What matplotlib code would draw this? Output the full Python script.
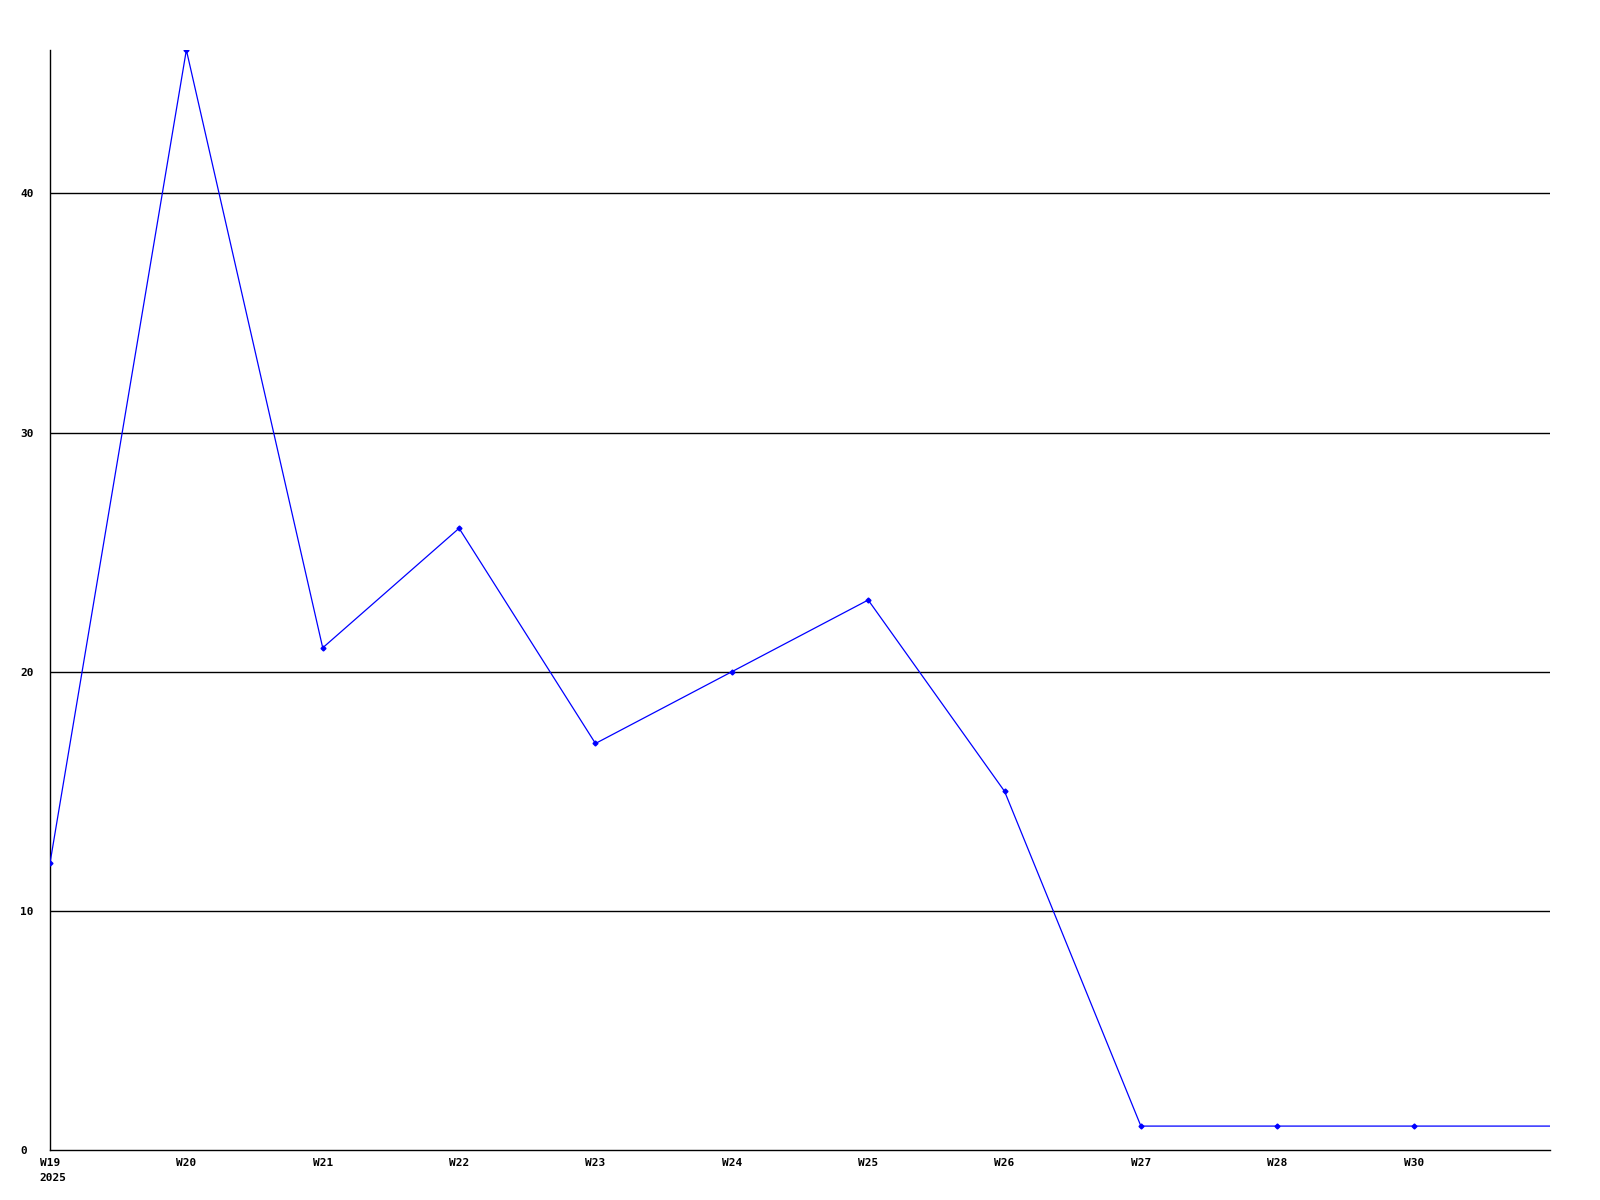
import matplotlib.pyplot as plt

# Dados
semanas = ["W19", "W20", "W21", "W22", "W23", "W24", "W25", "W26", "W27", "W28", "W30", ""]
valores = [12, 46, 21, 26, 17, 20, 23, 15, 1, 1, 1, 1]
ano = "2025"
y_ticks = [0, 10, 20, 30, 40]

x = list(range(len(semanas)))

fig = plt.figure(figsize=(16, 12), dpi=100)
ax = fig.add_axes([50 / 1600, 50 / 1200, 1500 / 1600, 1100 / 1200])

for y in y_ticks[1:]:
    ax.axhline(y, color="black", linewidth=1.0, zorder=1)

ax.plot(x, valores, color="#0000ff", linewidth=0.9, marker="D", markersize=2.5,
        markevery=list(range(len(semanas) - 1)), zorder=3)

ax.set_xlim(0, len(semanas) - 1)
ax.set_ylim(0, 46)

fonte = dict(family="DejaVu Sans Mono", weight="bold", size=8)

ax.set_xticks(x[:-1])
ax.set_xticklabels(semanas[:-1], **fonte)
ax.set_yticks(y_ticks)
ax.set_yticklabels([str(v) for v in y_ticks], ha="left", **fonte)
ax.tick_params(axis="x", length=0, pad=5.5)
ax.tick_params(axis="y", length=0, pad=21.6)

ax.annotate(ano, xy=(0, 0), xycoords="data", xytext=(-7.5, -16.5), textcoords="offset points",
            ha="left", va="top", **fonte)

for lado in ["top", "right"]:
    ax.spines[lado].set_visible(False)
ax.spines["left"].set_linewidth(1.0)
ax.spines["bottom"].set_linewidth(1.0)

fig.savefig("out.png", dpi=100)
